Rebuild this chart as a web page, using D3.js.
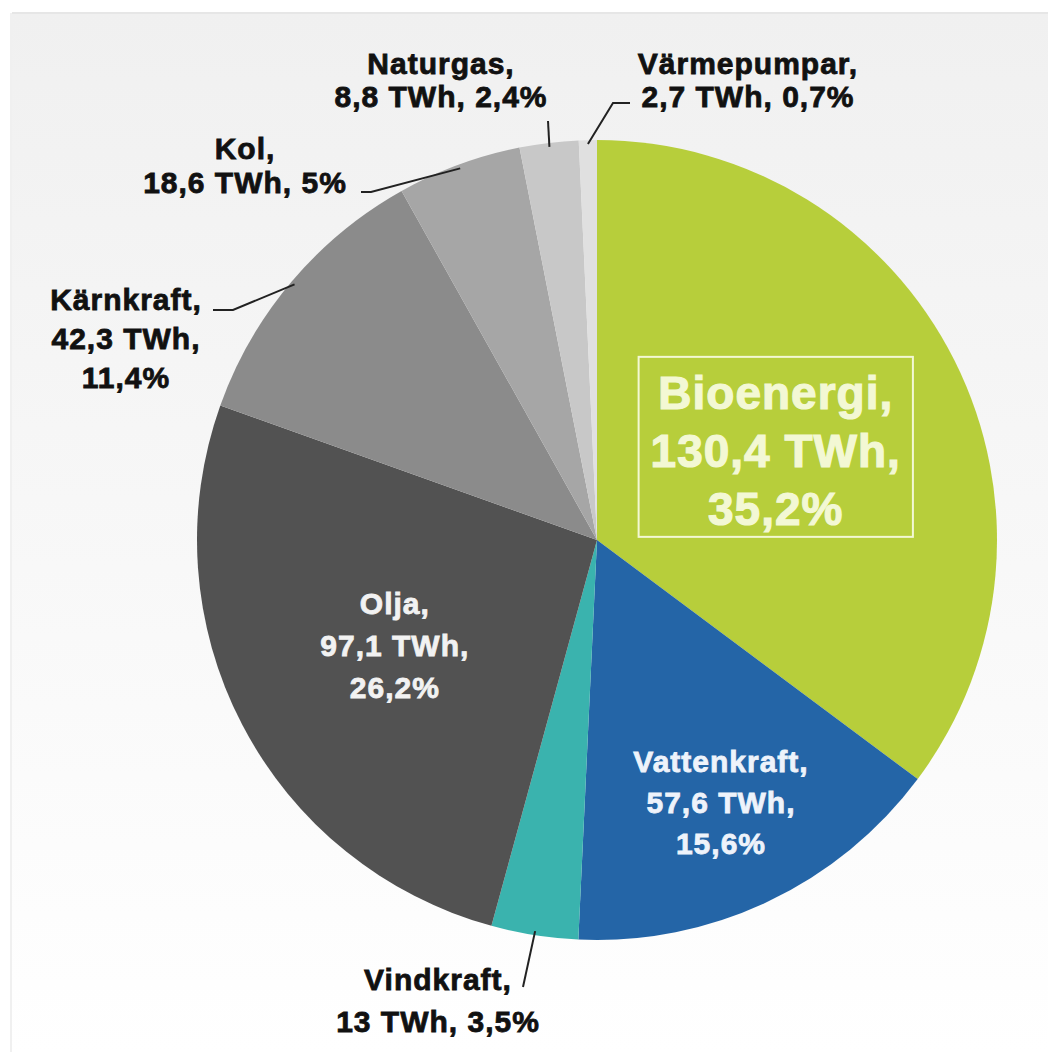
<!DOCTYPE html>
<html>
<head>
<meta charset="utf-8">
<script src="https://cdn.jsdelivr.net/npm/d3@7"></script>
<style>
  html, body { margin: 0; padding: 0; background: #fff; }
  svg { display: block; }
  text { font-family: "Liberation Sans", Arial, Helvetica, sans-serif; font-weight: bold; letter-spacing: 1px; }
</style>
</head>
<body>
<div class="pie-chart"></div>
<script>
// Sveriges energitillförsel per energikälla
const categories = ["Bioenergi", "Vattenkraft", "Vindkraft", "Olja", "Kärnkraft", "Kol", "Naturgas", "Värmepumpar"];
const twh = [130.4, 57.6, 13, 97.1, 42.3, 18.6, 8.8, 2.7];
const shares = [35.2, 15.6, 3.5, 26.2, 11.4, 5, 2.4, 0.7];
const colors = ["#b7ce3b", "#2465a7", "#3ab3ae", "#525252", "#8b8b8b", "#a6a6a6", "#c8c8c8", "#e0e0e0"];
// how many text lines each label is split into
const lineCount = [3, 3, 2, 3, 3, 2, 2, 2];

const width = 1048, height = 1054;
const cx = 597, cy = 540, radius = 400;

// label placement: inside labels sit on the slice's mid angle, outside ones get a leader
const labelLayout = [
  { inside: true, r: 0.5, size: 46, lh: 58, fill: "#f3f8d4", box: true },
  { inside: true, r: 0.725, size: 30, lh: 41, fill: "#eef3fb" },
  { inside: false, x: -159, y: 450, lh: 42, size: 30, leader: [[-74, 447]] },
  { inside: true, r: 0.57, size: 30, lh: 42, fill: "#f2f2f2" },
  { inside: false, x: -471, y: -230, lh: 39, size: 30, leader: [[-364, -230], [-384, -230]] },
  { inside: false, x: -352, y: -381, lh: 34, size: 30, leader: [[-226, -348], [-236, -348]] },
  { inside: false, x: -156, y: -466, lh: 33, size: 30, leader: [[-49, -419]] },
  { inside: false, x: 151, y: -466, lh: 33, size: 30, leader: [[16, -437], [33, -437]] }
];

const fmt = v => String(v).replace(".", ",");

function labelLines(i) {
  const name = categories[i] + ",";
  const a = fmt(twh[i]) + " TWh,";
  const b = fmt(shares[i]) + "%";
  return lineCount[i] === 3 ? [name, a, b] : [name, a + " " + b];
}

const svg = d3.select(".pie-chart")
  .append("svg")
  .attr("width", width)
  .attr("height", height);

// soft grey panel behind the chart
const grad = svg.append("defs").append("linearGradient")
  .attr("id", "bg")
  .attr("x1", 0).attr("y1", 0).attr("x2", 0).attr("y2", 1);
grad.append("stop").attr("offset", "0%").attr("stop-color", "#f0f0f0");
grad.append("stop").attr("offset", "100%").attr("stop-color", "#ffffff");

svg.append("rect")
  .attr("x", 12).attr("y", 13)
  .attr("width", width - 12).attr("height", height - 14)
  .attr("fill", "url(#bg)");
svg.append("line")
  .attr("x1", 12).attr("x2", width).attr("y1", 13).attr("y2", 13)
  .attr("stroke", "#e6e6e6").attr("stroke-width", 2);
svg.append("line")
  .attr("x1", 11).attr("x2", 11).attr("y1", 13).attr("y2", height - 2)
  .attr("stroke", "#f0f0f0").attr("stroke-width", 2);

const g = svg.append("g")
  .attr("transform", "translate(" + cx + "," + cy + ")");

const pie = d3.pie().sort(null).value(d => d);
const arcs = pie(twh);

const arc = d3.arc().innerRadius(0).outerRadius(radius);

g.append("g").attr("class", "slices")
  .selectAll("path")
  .data(arcs)
  .enter()
  .append("path")
  .attr("d", arc)
  .attr("fill", (d, i) => colors[i]);

const midAngle = d => (d.startAngle + d.endAngle) / 2;
const polar = (a, r) => [r * Math.sin(a), -r * Math.cos(a)];

const labels = g.append("g").attr("class", "labels");

arcs.forEach((d, i) => {
  const L = labelLayout[i];
  const lines = labelLines(i);
  let x, y0, fill;
  if (L.inside) {
    const p = polar(midAngle(d), radius * L.r);
    x = p[0];
    // vertically centre the block of lines on the anchor
    y0 = p[1] - (lines.length - 1) / 2 * L.lh + L.size * 0.36;
    fill = L.fill;
  } else {
    x = L.x;
    y0 = L.y;
    fill = "#111";
    const start = polar(midAngle(d), radius - 4);
    labels.append("path")
      .attr("d", d3.line()([start].concat(L.leader)))
      .attr("fill", "none")
      .attr("stroke", "#222")
      .attr("stroke-width", 2);
  }

  const t = labels.append("text")
    .attr("text-anchor", "middle")
    .attr("fill", fill)
    .attr("stroke", fill)
    .attr("stroke-width", L.size > 40 ? 1.2 : 0.8)
    .style("font-size", L.size + "px");
  lines.forEach((s, k) => {
    t.append("tspan")
      .attr("x", x)
      .attr("y", y0 + k * L.lh)
      .text(s);
  });

  if (L.box) {
    const bb = t.node().getBBox();
    labels.append("rect")
      .attr("x", bb.x - 12)
      .attr("y", bb.y - 10)
      .attr("width", bb.width + 24)
      .attr("height", bb.height + 12)
      .attr("fill", "none")
      .attr("stroke", fill)
      .attr("stroke-width", 2);
  }
});
</script>
</body>
</html>
